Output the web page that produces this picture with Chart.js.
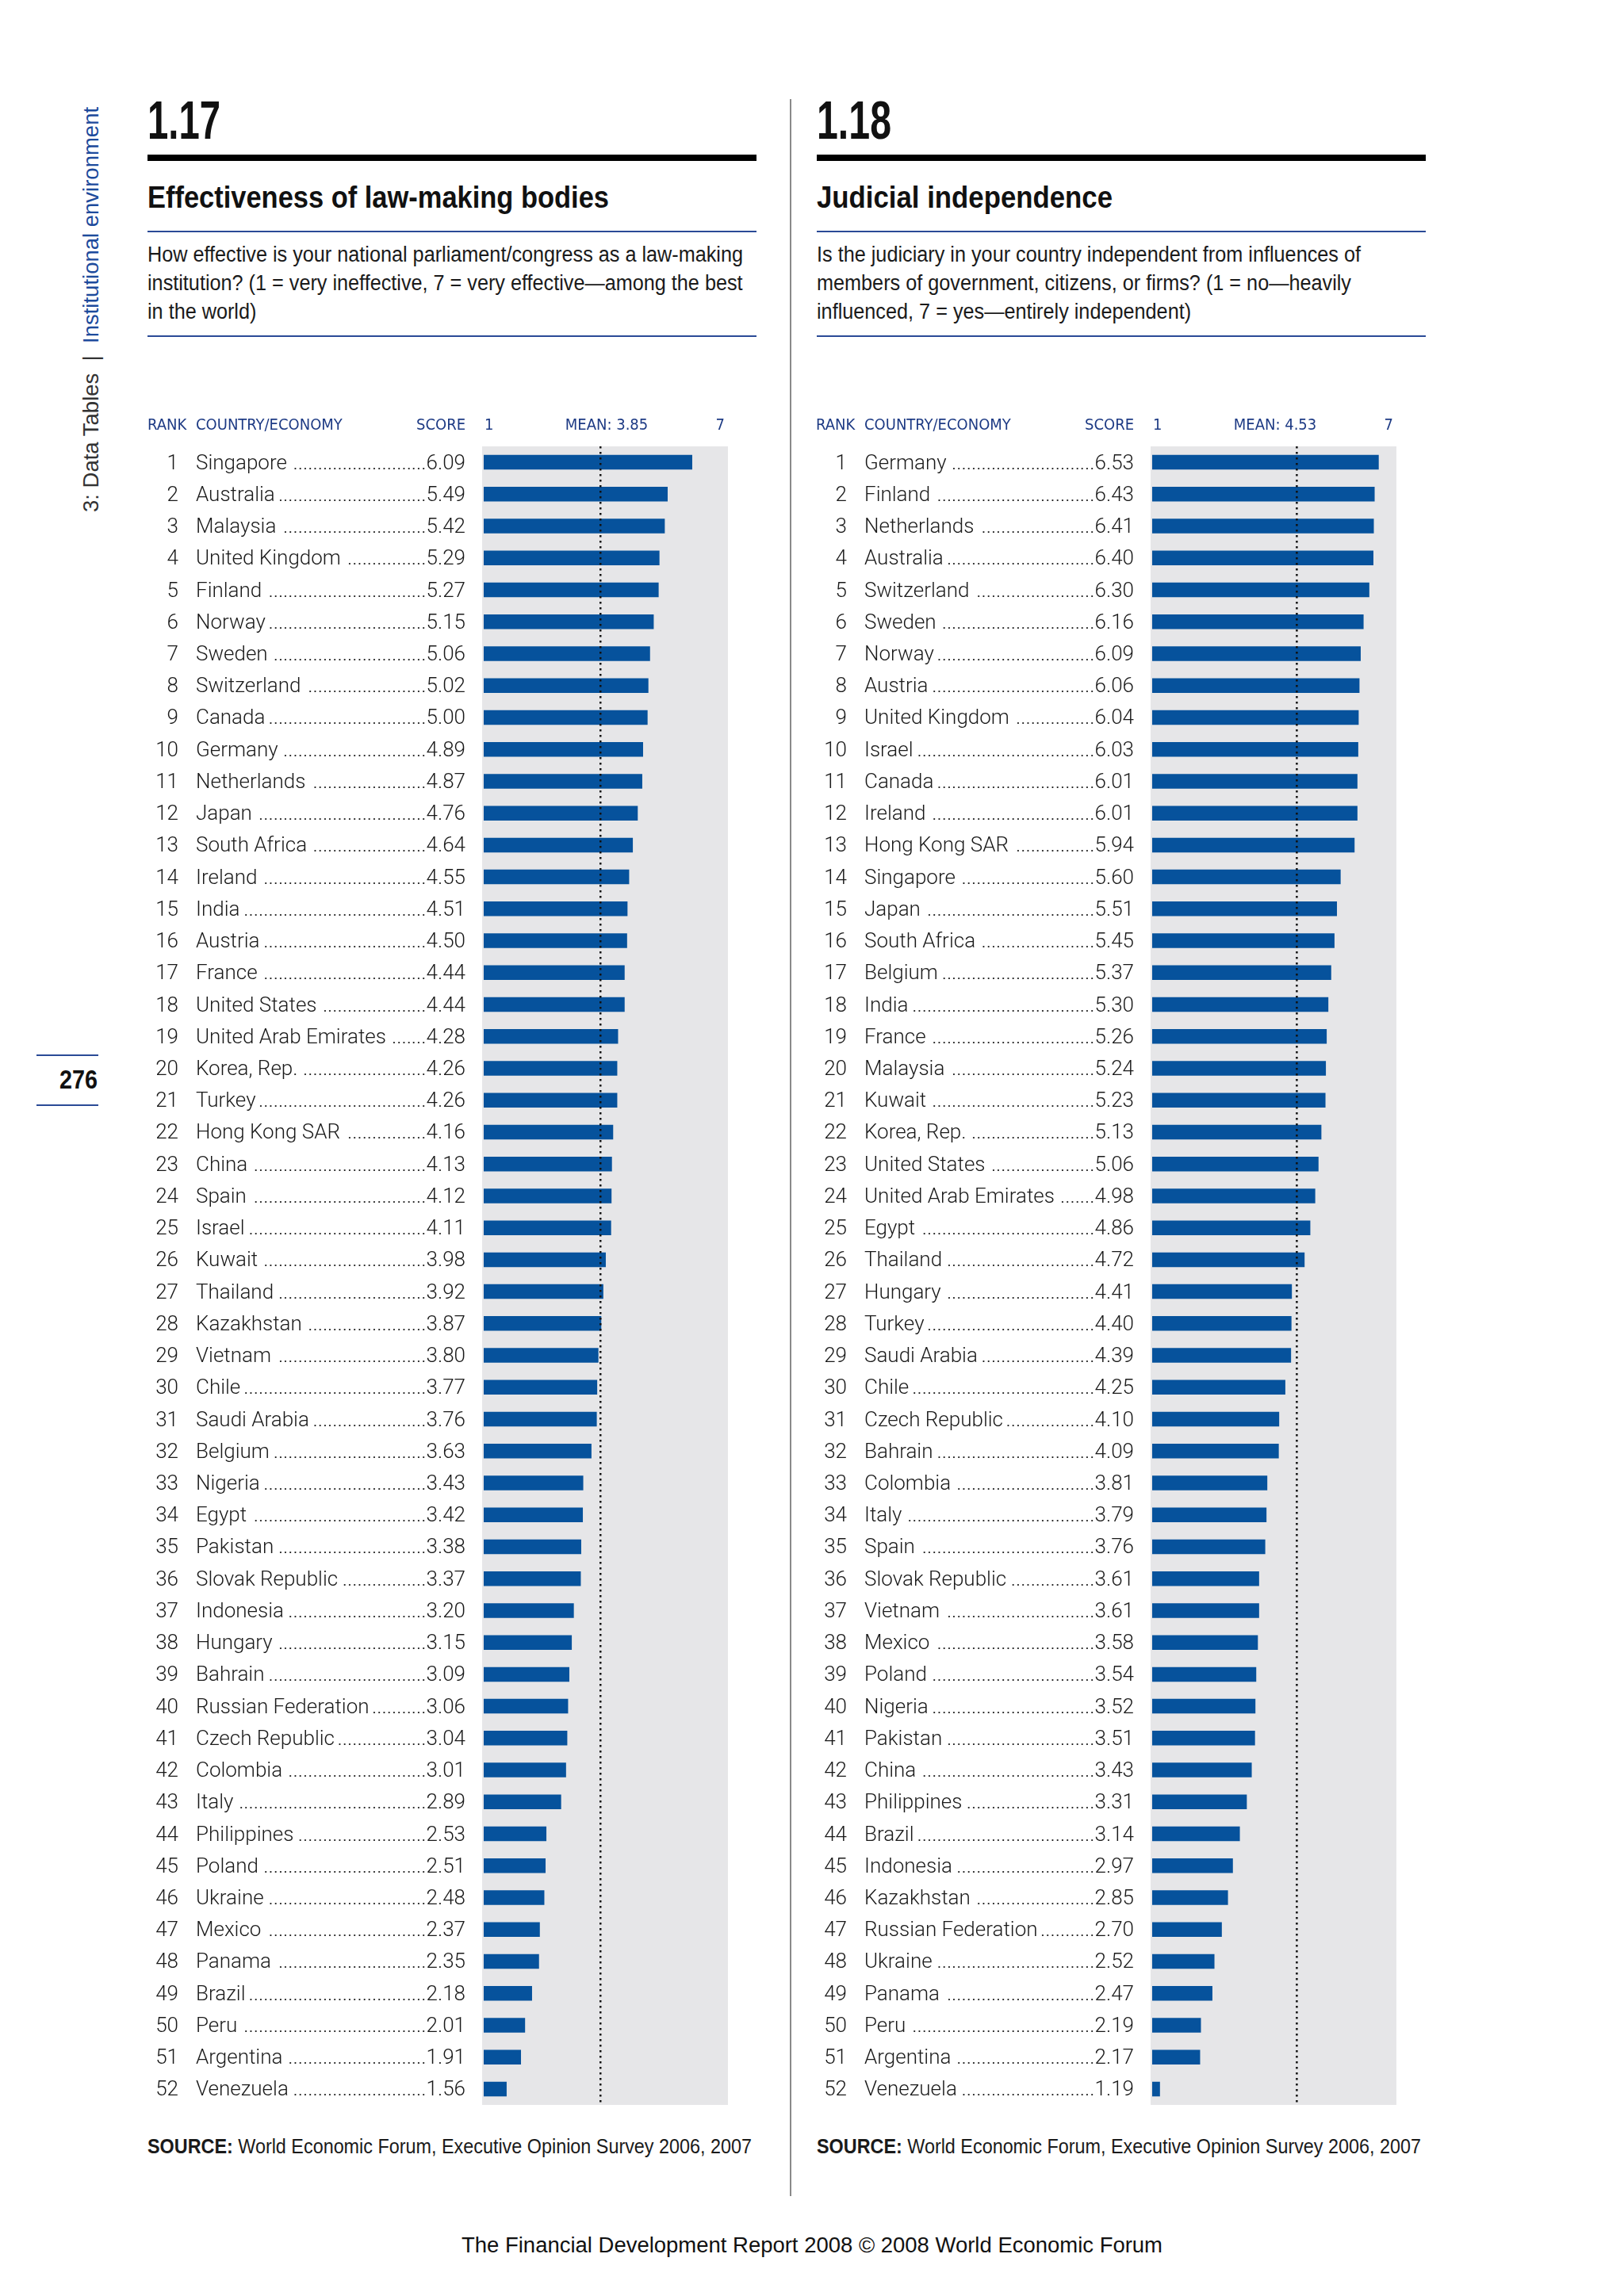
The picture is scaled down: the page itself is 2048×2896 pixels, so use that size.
<!DOCTYPE html>
<html>
<head>
<meta charset="utf-8">
<script src="https://cdn.jsdelivr.net/npm/chart.js@4.4.1/dist/chart.umd.min.js"></script>
<style>
  html, body { margin: 0; padding: 0; background: #fff; }
  body { width: 2048px; height: 2896px; position: relative; overflow: hidden; font-family: "Liberation Sans", Arial, sans-serif; color: #111; }
  .abs { position: absolute; white-space: nowrap; transform-origin: left top; }
  .num { font-weight: bold; font-size: 68px; line-height: 68px; }
  .rule { position: absolute; height: 8px; background: #000; }
  .ttl { font-weight: bold; font-size: 39px; line-height: 39px; }
  .bline { position: absolute; height: 2px; background: #2a4a96; }
  .desc { font-size: 27px; line-height: 36px; color: #1a1a1a; }
  .src { font-size: 25px; line-height: 25px; color: #1a1a1a; }
  .box { position: absolute; }
</style>
</head>
<body>

<!-- side tab -->
<div class="abs" style="left:100px; top:646px; transform: rotate(-90deg); transform-origin: left top; font-size:27.5px; line-height:30px; color:#333;">3: Data Tables&nbsp;&nbsp;|&nbsp;&nbsp;<span style="color:#1d4b9c">Institutional environment</span></div>
<div class="bline" style="left:46px; top:1330px; width:78px;"></div>
<div class="abs fit" data-w="48" style="left:75px; top:1344px; font-weight:bold; font-size:34px; line-height:34px;">276</div>
<div class="bline" style="left:46px; top:1393px; width:78px;"></div>

<!-- divider -->
<div style="position:absolute; left:996px; top:125px; width:2px; height:2645px; background:#8a8a8a;"></div>

<!-- left panel text -->
<div class="abs num fit" data-w="92" style="left:186px; top:117px;">1.17</div>
<div class="rule" style="left:186px; top:195px; width:768px;"></div>
<div class="abs ttl fit" data-w="582" style="left:186px; top:229px;">Effectiveness of law-making bodies</div>
<div class="bline" style="left:186px; top:291px; width:768px;"></div>
<div class="abs desc fit" data-w="751" style="left:186px; top:303px;">How effective is your national parliament/congress as a law-making<br>institution? (1 = very ineffective, 7 = very effective—among the best<br>in the world)</div>
<div class="bline" style="left:186px; top:423px; width:768px;"></div>
<div class="box" style="left:182px; top:510px; width:760px; height:2155px;"><canvas id="chartLeft"></canvas></div>
<div class="abs src fit" data-w="762" style="left:186px; top:2695px;"><b>SOURCE:</b> World Economic Forum, Executive Opinion Survey 2006, 2007</div>

<!-- right panel text -->
<div class="abs num fit" data-w="94" style="left:1030px; top:117px;">1.18</div>
<div class="rule" style="left:1030px; top:195px; width:768px;"></div>
<div class="abs ttl fit" data-w="373" style="left:1030px; top:229px;">Judicial independence</div>
<div class="bline" style="left:1030px; top:291px; width:768px;"></div>
<div class="abs desc fit" data-w="686" style="left:1030px; top:303px;">Is the judiciary in your country independent from influences of<br>members of government, citizens, or firms? (1 = no—heavily<br>influenced, 7 = yes—entirely independent)</div>
<div class="bline" style="left:1030px; top:423px; width:768px;"></div>
<div class="box" style="left:1025px; top:510px; width:760px; height:2155px;"><canvas id="chartRight"></canvas></div>
<div class="abs src fit" data-w="762" style="left:1030px; top:2695px;"><b>SOURCE:</b> World Economic Forum, Executive Opinion Survey 2006, 2007</div>

<!-- footer -->
<div class="abs fit" data-w="884" style="left:582px; top:2819px; font-size:27px; line-height:27px; color:#111;">The Financial Development Report 2008 © 2008 World Economic Forum</div>

<script>
// 1.17 Effectiveness of law-making bodies
const lawCountries = ['Singapore', 'Australia', 'Malaysia', 'United Kingdom', 'Finland', 'Norway', 'Sweden',
    'Switzerland', 'Canada', 'Germany', 'Netherlands', 'Japan', 'South Africa', 'Ireland', 'India', 'Austria',
    'France', 'United States', 'United Arab Emirates', 'Korea, Rep.', 'Turkey', 'Hong Kong SAR', 'China', 'Spain',
    'Israel', 'Kuwait', 'Thailand', 'Kazakhstan', 'Vietnam', 'Chile', 'Saudi Arabia', 'Belgium', 'Nigeria', 'Egypt',
    'Pakistan', 'Slovak Republic', 'Indonesia', 'Hungary', 'Bahrain', 'Russian Federation', 'Czech Republic',
    'Colombia', 'Italy', 'Philippines', 'Poland', 'Ukraine', 'Mexico', 'Panama', 'Brazil', 'Peru', 'Argentina',
    'Venezuela'];
const lawScores = [6.09, 5.49, 5.42, 5.29, 5.27, 5.15, 5.06, 5.02, 5.00, 4.89, 4.87, 4.76, 4.64, 4.55, 4.51, 4.50,
    4.44, 4.44, 4.28, 4.26, 4.26, 4.16, 4.13, 4.12, 4.11, 3.98, 3.92, 3.87, 3.80, 3.77, 3.76, 3.63, 3.43, 3.42,
    3.38, 3.37, 3.20, 3.15, 3.09, 3.06, 3.04, 3.01, 2.89, 2.53, 2.51, 2.48, 2.37, 2.35, 2.18, 2.01, 1.91, 1.56];
const lawMean = 3.85;

// 1.18 Judicial independence
const judCountries = ['Germany', 'Finland', 'Netherlands', 'Australia', 'Switzerland', 'Sweden', 'Norway',
    'Austria', 'United Kingdom', 'Israel', 'Canada', 'Ireland', 'Hong Kong SAR', 'Singapore', 'Japan',
    'South Africa', 'Belgium', 'India', 'France', 'Malaysia', 'Kuwait', 'Korea, Rep.', 'United States',
    'United Arab Emirates', 'Egypt', 'Thailand', 'Hungary', 'Turkey', 'Saudi Arabia', 'Chile', 'Czech Republic',
    'Bahrain', 'Colombia', 'Italy', 'Spain', 'Slovak Republic', 'Vietnam', 'Mexico', 'Poland', 'Nigeria',
    'Pakistan', 'China', 'Philippines', 'Brazil', 'Indonesia', 'Kazakhstan', 'Russian Federation', 'Ukraine',
    'Panama', 'Peru', 'Argentina', 'Venezuela'];
const judScores = [6.53, 6.43, 6.41, 6.40, 6.30, 6.16, 6.09, 6.06, 6.04, 6.03, 6.01, 6.01, 5.94, 5.60, 5.51,
    5.45, 5.37, 5.30, 5.26, 5.24, 5.23, 5.13, 5.06, 4.98, 4.86, 4.72, 4.41, 4.40, 4.39, 4.25, 4.10, 4.09, 3.81,
    3.79, 3.76, 3.61, 3.61, 3.58, 3.54, 3.52, 3.51, 3.43, 3.31, 3.14, 2.97, 2.85, 2.70, 2.52, 2.47, 2.19, 2.17, 1.19];
const judMean = 4.53;

const scaleMin = 1;
const scaleMax = 7;

const rowFont = '300 26px Roboto, "Liberation Sans", sans-serif';
const headFont = '20px "DejaVu Sans Condensed", "Liberation Sans Narrow", sans-serif';
const headColor = '#1d3a84';

// squeeze the condensed-looking headings to the widths they have in print
document.querySelectorAll('.fit').forEach(el => {
    const w = el.getBoundingClientRect().width;
    el.style.transform = 'scaleX(' + (Number(el.dataset.w) / w) + ')';
});

// draws the gray panel, the mean line and the ranked list to the left of the bars
const tablePlugin = {
    id: 'rankTable',
    beforeDatasetsDraw(chart) {
        const { ctx, chartArea } = chart;
        ctx.save();
        ctx.fillStyle = '#e6e6e8';
        ctx.fillRect(chartArea.left - 2, chartArea.top, chartArea.right - chartArea.left, chartArea.bottom - chartArea.top);
        ctx.restore();
    },
    afterDatasetsDraw(chart, args, opts) {
        const { ctx, chartArea } = chart;
        const x = chart.scales.x;
        const y = chart.scales.y;
        ctx.save();

        // mean line
        const mx = x.getPixelForValue(opts.mean);
        ctx.strokeStyle = '#111';
        ctx.lineWidth = 2.5;
        ctx.setLineDash([2.5, 4.5]);
        ctx.beginPath();
        ctx.moveTo(mx, chartArea.top);
        ctx.lineTo(mx, chartArea.bottom);
        ctx.stroke();
        ctx.setLineDash([]);

        // header row
        const hy = 27;
        ctx.font = headFont;
        ctx.fillStyle = headColor;
        ctx.textBaseline = 'middle';
        ctx.textAlign = 'left';
        ctx.fillText('RANK', 4, hy);
        ctx.fillText('COUNTRY/ECONOMY', 65, hy);
        ctx.fillText(String(scaleMin), chartArea.left + 1, hy);
        ctx.textAlign = 'right';
        ctx.fillText('SCORE', 405, hy);
        ctx.fillText(String(scaleMax), chartArea.right - 6, hy);
        ctx.textAlign = 'center';
        ctx.fillText('MEAN: ' + opts.mean.toFixed(2), (chartArea.left + chartArea.right) / 2, hy);

        // rows
        ctx.font = rowFont;
        ctx.fillStyle = '#1a1a1a';
        const labels = chart.data.labels;
        const vals = chart.data.datasets[0].data;
        const dotW = ctx.measureText('.').width;
        labels.forEach((name, i) => {
            const py = y.getPixelForValue(i) + 2;
            const score = vals[i].toFixed(2);
            ctx.textAlign = 'right';
            ctx.fillText(String(i + 1), 43, py);
            ctx.fillText(score, 405, py);
            ctx.textAlign = 'left';
            ctx.fillText(name, 65, py);
            const nameEnd = 65 + ctx.measureText(name).width + 3;
            const scoreLeft = 405 - ctx.measureText(score).width;
            const n = Math.floor((scoreLeft - nameEnd) / dotW);
            if (n > 0) {
                ctx.textAlign = 'right';
                ctx.fillText('.'.repeat(n), scoreLeft, py);
            }
        });
        ctx.restore();
    }
};

function makeChart(id, countries, scores, mean) {
    const ctx = document.getElementById(id).getContext('2d');
    return new Chart(ctx, {
        type: 'bar',
        data: {
            labels: countries,
            datasets: [{
                data: scores,
                backgroundColor: '#06529c',
                borderWidth: 0,
                barPercentage: 0.46,
                categoryPercentage: 1.0
            }]
        },
        options: {
            indexAxis: 'y',
            responsive: true,
            maintainAspectRatio: false,
            animation: false,
            layout: { padding: { left: 428, right: 22, top: 53, bottom: 10 } },
            scales: {
                x: { min: scaleMin, max: scaleMax, display: false },
                y: { display: false }
            },
            plugins: {
                legend: { display: false },
                tooltip: { enabled: false },
                rankTable: { mean: mean }
            }
        },
        plugins: [tablePlugin]
    });
}

makeChart('chartLeft', lawCountries, lawScores, lawMean);
makeChart('chartRight', judCountries, judScores, judMean);
</script>
</body>
</html>
